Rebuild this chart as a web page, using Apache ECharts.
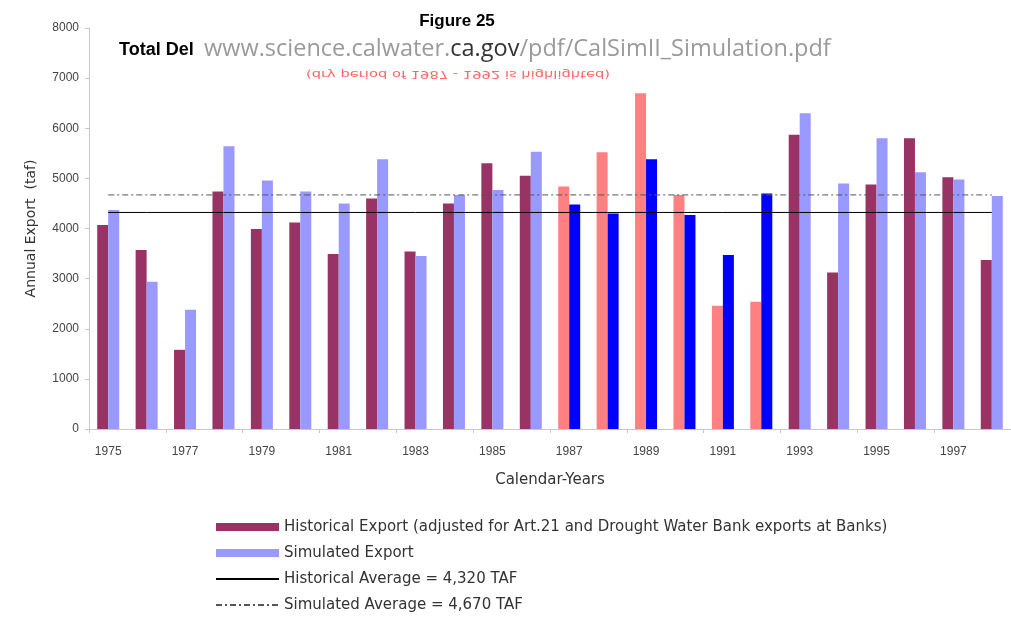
<!DOCTYPE html>
<html>
<head>
<meta charset="utf-8">
<script src="https://cdn.jsdelivr.net/npm/echarts@6/dist/echarts.min.js"></script>
<style>
html,body{margin:0;padding:0;background:#fff;}
#chart{width:1011px;height:628px;}
</style>
</head>
<body>
<div id="chart"></div>
<script>
const years = ['1975','1976','1977','1978','1979','1980','1981','1982','1983','1984','1985','1986','1987','1988','1989','1990','1991','1992','1993','1994','1995','1996','1997','1998'];
const historicalExport = [4070,3570,1580,4740,3990,4120,3490,4600,3540,4500,5300,5050,4840,5520,6700,4670,2460,2540,5870,3120,4880,5800,5020,3370];
const simulatedExport = [4370,2940,2380,5640,4960,4740,4500,5380,3450,4670,4770,5530,4480,4300,5380,4270,3470,4700,6300,4900,5800,5120,4980,4650];
const droughtYears = ['1987','1988','1989','1990','1991','1992'];
const historicalAverage = 4320;
const simulatedAverage = 4670;
const yTicks = {min: 0, max: 8000, interval: 1000};

const C_HIST = '#993366', C_SIM = '#9999FF', C_HIST_DRY = '#FF8080', C_SIM_DRY = '#0000FF';
const FONT = 'Liberation Sans, Arial, sans-serif';
const FONT_W = 'DejaVu Sans, sans-serif';

const NAME_HIST = 'Historical Export (adjusted for Art.21 and Drought Water Bank exports at Banks)';
const NAME_SIM = 'Simulated Export';
const NAME_HAVG = 'Historical Average = 4,320 TAF';
const NAME_SAVG = 'Simulated Average = 4,670 TAF';

const histData = historicalExport.map((v, i) => droughtYears.includes(years[i]) ? {value: v, itemStyle: {color: C_HIST_DRY}} : v);
const simData = simulatedExport.map((v, i) => droughtYears.includes(years[i]) ? {value: v, itemStyle: {color: C_SIM_DRY}} : v);

const chart = echarts.init(document.getElementById('chart'), null, {renderer: 'canvas'});
chart.setOption({
  backgroundColor: '#ffffff',
  animation: false,
  textStyle: {fontFamily: FONT},
  grid: {left: 89, right: -5, top: 28, bottom: 199, containLabel: false},
  legend: {
    orient: 'vertical', left: 215, top: 518, padding: 0,
    itemWidth: 63, itemHeight: 8, itemGap: 8,
    textStyle: {fontSize: 15, color: '#333', lineHeight: 18, fontFamily: FONT_W},
    data: [
      {name: NAME_HIST, icon: 'rect'},
      {name: NAME_SIM, icon: 'rect'},
      {name: NAME_HAVG, itemStyle: {opacity: 0}},
      {name: NAME_SAVG, itemStyle: {opacity: 0}}
    ]
  },
  xAxis: {
    type: 'category', data: years,
    name: 'Calendar-Years', nameLocation: 'middle', nameGap: 44,
    nameTextStyle: {fontSize: 15, color: '#333', fontFamily: FONT_W},
    axisLine: {lineStyle: {color: '#c8c8c8'}},
    axisTick: {show: true, length: 4, lineStyle: {color: '#c8c8c8'}},
    axisLabel: {interval: 1, color: '#444', fontSize: 12, margin: 17}
  },
  yAxis: {
    type: 'value', min: yTicks.min, max: yTicks.max, interval: yTicks.interval,
    name: 'Annual Export  (taf)', nameLocation: 'middle', nameGap: 51, nameRotate: 90,
    nameTextStyle: {fontSize: 14, color: '#333', fontFamily: FONT_W},
    splitLine: {show: false},
    axisLine: {show: true, lineStyle: {color: '#c8c8c8'}},
    axisTick: {show: true, length: 4, lineStyle: {color: '#c8c8c8'}},
    axisLabel: {color: '#444', fontSize: 12, margin: 10, formatter: v => String(v)}
  },
  series: [
    {name: NAME_HIST, type: 'bar', data: histData, barWidth: 11, barGap: '0%', itemStyle: {color: C_HIST}},
    {name: NAME_SIM, type: 'bar', data: simData, barWidth: 11, barGap: '0%', itemStyle: {color: C_SIM}},
    {name: NAME_HAVG, type: 'line', data: years.map(() => historicalAverage), symbol: 'none', z: 5,
      lineStyle: {color: '#000', width: 1}, itemStyle: {color: '#000'}},
    {name: NAME_SAVG, type: 'line', data: years.map(() => simulatedAverage), symbol: 'none', z: 5,
      lineStyle: {color: '#555', width: 1, type: [6, 3, 2, 3]}, itemStyle: {color: '#555'}}
  ],
  graphic: [
    {type: 'text', x: 457, y: 21, style: {text: 'Figure 25', font: 'bold 17px ' + FONT, fill: '#000', align: 'center', verticalAlign: 'middle'}},
    {type: 'text', x: 119, y: 50, style: {text: 'Total Del', font: 'bold 18px ' + FONT, fill: '#000', align: 'left', verticalAlign: 'middle'}},
    {type: 'text', x: 204, y: 49, style: {
      text: '{a|www.science.calwater.}{b|ca.gov}{a|/pdf/CalSimII_Simulation.pdf}',
      align: 'left', verticalAlign: 'middle',
      rich: {
        a: {fontFamily: 'Open Sans', fontSize: 23.5, fill: '#9a9a9a', color: '#9a9a9a'},
        b: {fontFamily: 'Open Sans', fontSize: 23.5, fill: '#333', color: '#333'}
      }
    }},
    {type: 'text', x: 458, y: 74, scaleX: 1.05, scaleY: -0.8, style: {text: '(dry period of 1987 - 1992 is highlighted)', font: '14px ' + FONT_W, fill: '#FF6666', align: 'center', verticalAlign: 'middle'}}
  ]
});
</script>
</body>
</html>
